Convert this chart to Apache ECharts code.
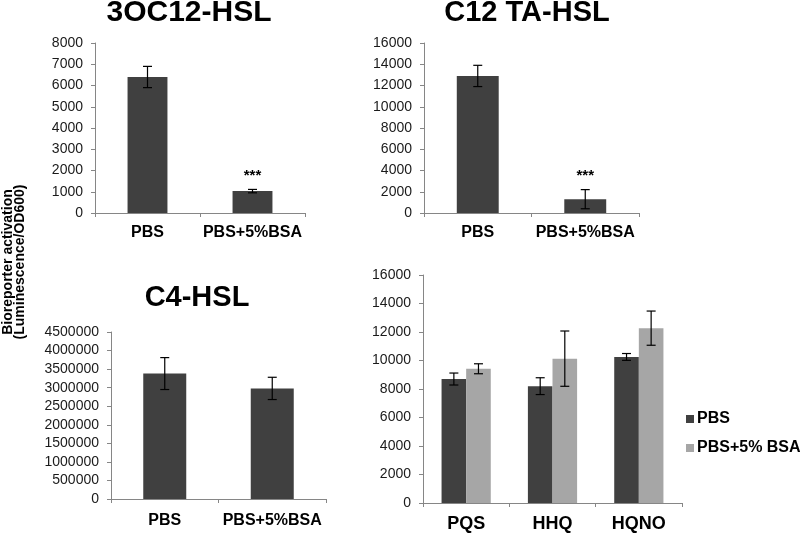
<!DOCTYPE html>
<html>
<head>
<meta charset="utf-8">
<script src="https://cdn.jsdelivr.net/npm/echarts@6/dist/echarts.min.js"></script>
<style>html,body{margin:0;padding:0;background:#fff}#c{width:800px;height:533px}</style>
</head>
<body>
<div id="c"></div>
<script>
// ---- data ----
const twoCats = ['PBS', 'PBS+5%BSA'];
const oc12Values = [6400, 1030];
const oc12Err = [500, 80];
const c12taValues = [12900, 1300];
const c12taErr = [1000, 900];
const c4Values = [3380000, 2980000];
const c4Err = [430000, 300000];
const sigMarks = ['', '***'];
const aqCats = ['PQS', 'HHQ', 'HQNO'];
const aqPBS = [8700, 8200, 10250];
const aqPBSErr = [420, 590, 240];
const aqBSA = [9420, 10130, 12270];
const aqBSAErr = [350, 1940, 1200];
const titles = ['3OC12-HSL', 'C12 TA-HSL', 'C4-HSL'];
const yName = ['Bioreporter activation', '(Luminescence/OD600)'];
const legendNames = ['PBS', 'PBS+5% BSA'];

const FONT = "'Liberation Sans', Arial, sans-serif";
const DARK = '#404040';
const LIGHT = '#a6a6a6';
const AXIS = '#868686';

const chart = echarts.init(document.getElementById('c'));

function errRender(slot, nSlots, gap) {
  return function (params, api) {
    const x = api.value(0), v = api.value(1), e = api.value(2);
    const band = api.size([1, 0])[0];
    const bw = band * (1 - gap) / nSlots;
    const off = (slot - (nSlots - 1) / 2) * bw;
    const top = api.coord([x, v + e]);
    const bot = api.coord([x, v - e]);
    const cx = top[0] + off;
    const cap = 4.5;
    const st = { stroke: '#000', lineWidth: 1.2 };
    return {
      type: 'group',
      children: [
        { type: 'line', shape: { x1: cx, y1: top[1], x2: cx, y2: bot[1] }, style: st },
        { type: 'line', shape: { x1: cx - cap, y1: top[1], x2: cx + cap, y2: top[1] }, style: st },
        { type: 'line', shape: { x1: cx - cap, y1: bot[1], x2: cx + cap, y2: bot[1] }, style: st }
      ]
    };
  };
}
function errData(vals, errs) { return vals.map((v, i) => [i, v, errs[i]]); }

function xAxisCfg(gi, cats, fs, margin) {
  return {
    type: 'category', gridIndex: gi, data: cats,
    axisLine: { lineStyle: { color: AXIS, width: 1 } },
    axisTick: { show: true, alignWithLabel: false, length: 4, lineStyle: { color: AXIS } },
    axisLabel: { color: '#000', fontFamily: FONT, fontWeight: 'bold', fontSize: fs, margin: margin, interval: 0 }
  };
}
function yAxisCfg(gi, max, interval) {
  return {
    type: 'value', gridIndex: gi, min: 0, max: max, interval: interval,
    axisLine: { show: true, lineStyle: { color: AXIS, width: 1 } },
    axisTick: { show: true, length: 4, lineStyle: { color: AXIS } },
    splitLine: { show: false },
    axisLabel: { color: '#1a1a1a', fontFamily: FONT, fontSize: 14, margin: 12, formatter: v => String(v) }
  };
}
function sigData(vals, dists) {
  return vals.map((v, i) => sigMarks[i] ? {
    value: v,
    label: { show: true, position: 'top', formatter: sigMarks[i], distance: dists[i], color: '#000', fontFamily: FONT, fontWeight: 'bold', fontSize: 15 }
  } : v);
}

const option = {
  animation: false,
  backgroundColor: '#fff',
  grid: [
    { left: 95, top: 43, width: 210, height: 170 },
    { left: 424, top: 43, width: 215, height: 170 },
    { left: 111, top: 332, width: 215, height: 167 },
    { left: 423, top: 275, width: 259, height: 230 }
  ],
  xAxis: [
    xAxisCfg(0, twoCats, 16, 12),
    xAxisCfg(1, twoCats, 16, 12),
    xAxisCfg(2, twoCats, 16, 14),
    xAxisCfg(3, aqCats, 18, 12)
  ],
  yAxis: [
    yAxisCfg(0, 8000, 1000),
    yAxisCfg(1, 16000, 2000),
    yAxisCfg(2, 4500000, 500000),
    yAxisCfg(3, 16000, 2000)
  ],
  legend: {
    orient: 'vertical', left: 681, top: 406,
    itemWidth: 8, itemHeight: 8, itemGap: 13,
    icon: 'rect',
    data: legendNames,
    textStyle: { color: '#000', fontFamily: FONT, fontWeight: 'bold', fontSize: 16, lineHeight: 16, padding: [0, 0, 0, -2] }
  },
  graphic: [
    { type: 'text', x: 189, y: 13, style: { text: titles[0], font: 'bold 30px ' + FONT, fill: '#000', textAlign: 'center', textVerticalAlign: 'middle' } },
    { type: 'text', x: 527, y: 13, style: { text: titles[1], font: 'bold 29px ' + FONT, fill: '#000', textAlign: 'center', textVerticalAlign: 'middle' } },
    { type: 'text', x: 197, y: 298, style: { text: titles[2], font: 'bold 29px ' + FONT, fill: '#000', textAlign: 'center', textVerticalAlign: 'middle' } },
    { type: 'text', x: 8, y: 262, rotation: Math.PI / 2, style: { text: yName[0], font: 'bold 14px ' + FONT, fill: '#000', textAlign: 'center', textVerticalAlign: 'middle' } },
    { type: 'text', x: 20.5, y: 262, rotation: Math.PI / 2, style: { text: yName[1], font: 'bold 14px ' + FONT, fill: '#000', textAlign: 'center', textVerticalAlign: 'middle' } }
  ],
  series: [
    { type: 'bar', xAxisIndex: 0, yAxisIndex: 0, data: sigData(oc12Values, [0, 8]), barCategoryGap: '62%', itemStyle: { color: DARK } },
    { type: 'custom', xAxisIndex: 0, yAxisIndex: 0, data: errData(oc12Values, oc12Err), renderItem: errRender(0, 1, 0.62), encode: { x: 0, y: 1 }, z: 5 },
    { type: 'bar', xAxisIndex: 1, yAxisIndex: 1, data: sigData(c12taValues, [0, 16]), barCategoryGap: '61%', itemStyle: { color: DARK } },
    { type: 'custom', xAxisIndex: 1, yAxisIndex: 1, data: errData(c12taValues, c12taErr), renderItem: errRender(0, 1, 0.61), encode: { x: 0, y: 1 }, z: 5 },
    { type: 'bar', xAxisIndex: 2, yAxisIndex: 2, data: c4Values, barCategoryGap: '60%', itemStyle: { color: DARK } },
    { type: 'custom', xAxisIndex: 2, yAxisIndex: 2, data: errData(c4Values, c4Err), renderItem: errRender(0, 1, 0.60), encode: { x: 0, y: 1 }, z: 5 },
    { name: legendNames[0], type: 'bar', xAxisIndex: 3, yAxisIndex: 3, data: aqPBS, barGap: '0%', barCategoryGap: '43%', itemStyle: { color: DARK } },
    { name: legendNames[1], type: 'bar', xAxisIndex: 3, yAxisIndex: 3, data: aqBSA, barGap: '0%', barCategoryGap: '43%', itemStyle: { color: LIGHT } },
    { type: 'custom', xAxisIndex: 3, yAxisIndex: 3, data: errData(aqPBS, aqPBSErr), renderItem: errRender(0, 2, 0.43), encode: { x: 0, y: 1 }, z: 5 },
    { type: 'custom', xAxisIndex: 3, yAxisIndex: 3, data: errData(aqBSA, aqBSAErr), renderItem: errRender(1, 2, 0.43), encode: { x: 0, y: 1 }, z: 5 }
  ]
};
chart.setOption(option);
</script>
</body>
</html>
